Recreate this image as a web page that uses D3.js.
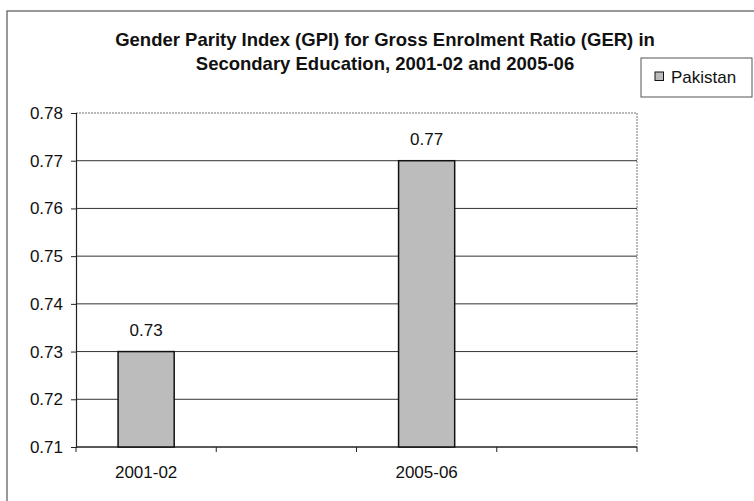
<!DOCTYPE html>
<html>
<head>
<meta charset="utf-8">
<script src="https://cdn.jsdelivr.net/npm/d3@7"></script>
<style>
  html, body { margin: 0; padding: 0; background: #fff; }
  svg { display: block; }
  text { font-family: "Liberation Sans", Arial, Helvetica, sans-serif; fill: #111; }
</style>
</head>
<body>
<svg id="chart" width="754" height="501"></svg>
<script>
// ---- data ----
const categories = ["2001-02", "", "2005-06", ""];
const values = [0.73, null, 0.77, null];
const seriesName = "Pakistan";
const yTicks = [0.71, 0.72, 0.73, 0.74, 0.75, 0.76, 0.77, 0.78];
const titleLines = [
  "Gender Parity Index (GPI) for Gross Enrolment Ratio (GER) in",
  "Secondary Education, 2001-02 and 2005-06"
];

const svg = d3.select("#chart");
const W = 754, H = 501;
const plot = { left: 76, right: 637, top: 113, bottom: 447 };

// outer frame
svg.append("rect")
  .attr("x", 7).attr("y", 11)
  .attr("width", W + 10).attr("height", H + 10)
  .attr("fill", "#fff").attr("stroke", "#555").attr("stroke-width", 1.2);

const idx = categories.map((d, i) => i);
const x = d3.scaleBand().domain(idx).range([plot.left, plot.right])
  .paddingInner(0.6).paddingOuter(0.3);
const y = d3.scaleLinear().domain([0.71, 0.78]).range([plot.bottom, plot.top]);

// plot border (top & right, lighter)
svg.append("line")
  .attr("x1", plot.left).attr("x2", plot.right)
  .attr("y1", y(0.78)).attr("y2", y(0.78))
  .attr("stroke", "#777").attr("stroke-width", 1).attr("stroke-dasharray", "2,1");
svg.append("line")
  .attr("x1", plot.right).attr("x2", plot.right)
  .attr("y1", plot.top).attr("y2", plot.bottom)
  .attr("stroke", "#777").attr("stroke-width", 1).attr("stroke-dasharray", "2,1");

// gridlines
svg.append("g").selectAll("line")
  .data(yTicks.filter(t => t > 0.71 && t < 0.78))
  .join("line")
  .attr("x1", plot.left).attr("x2", plot.right)
  .attr("y1", d => y(d)).attr("y2", d => y(d))
  .attr("stroke", "#333").attr("stroke-width", 1);

// y axis
const yAxis = d3.axisLeft(y).tickValues(yTicks).tickFormat(d3.format(".2f"))
  .tickSize(5).tickPadding(8);
const gy = svg.append("g").attr("transform", `translate(${plot.left},0)`).call(yAxis);
gy.select(".domain").attr("stroke", "#222").attr("stroke-width", 1.2);
gy.selectAll(".tick line").attr("stroke", "#222");
gy.selectAll(".tick text")
  .style("font-family", '"Liberation Sans", Arial, sans-serif')
  .attr("font-size", 17).attr("fill", "#111");

// x axis line & ticks at category boundaries
const step = x.step();
const boundaries = d3.range(categories.length + 1).map(i => plot.left + i * step);
svg.append("line")
  .attr("x1", plot.left).attr("x2", plot.right)
  .attr("y1", plot.bottom).attr("y2", plot.bottom)
  .attr("stroke", "#222").attr("stroke-width", 1.5);
svg.append("g").selectAll("line").data(boundaries).join("line")
  .attr("x1", d => d).attr("x2", d => d)
  .attr("y1", plot.bottom).attr("y2", plot.bottom + 5)
  .attr("stroke", "#222").attr("stroke-width", 1);

// category labels
svg.append("g").selectAll("text").data(idx).join("text")
  .attr("x", i => x(i) + x.bandwidth() / 2)
  .attr("y", 478)
  .attr("text-anchor", "middle")
  .attr("font-size", 17)
  .text(i => categories[i]);

// bars
const barData = idx.filter(i => values[i] != null);
svg.append("g").selectAll("rect").data(barData).join("rect")
  .attr("x", i => x(i))
  .attr("y", i => y(values[i]))
  .attr("width", x.bandwidth())
  .attr("height", i => y(0.71) - y(values[i]))
  .attr("fill", "#bcbcbc")
  .attr("stroke", "#111").attr("stroke-width", 1.5);

// data labels
svg.append("g").selectAll("text").data(barData).join("text")
  .attr("x", i => x(i) + x.bandwidth() / 2)
  .attr("y", i => y(values[i]) - 16)
  .attr("text-anchor", "middle")
  .attr("font-size", 17)
  .text(i => values[i].toFixed(2));

// title
svg.append("g").selectAll("text").data(titleLines).join("text")
  .attr("x", 385)
  .attr("y", (d, i) => 46 + i * 24)
  .attr("text-anchor", "middle")
  .attr("font-size", 18.5)
  .attr("font-weight", "bold")
  .text(d => d);

// legend
const lg = svg.append("g");
lg.append("rect")
  .attr("x", 641).attr("y", 58).attr("width", 111).attr("height", 39)
  .attr("fill", "#fff").attr("stroke", "#555").attr("stroke-width", 1);
lg.append("rect")
  .attr("x", 655).attr("y", 72).attr("width", 8.5).attr("height", 8.5)
  .attr("fill", "#bcbcbc").attr("stroke", "#111").attr("stroke-width", 1);
lg.append("text")
  .attr("x", 671).attr("y", 82.5)
  .attr("font-size", 17)
  .text(seriesName);
</script>
</body>
</html>
